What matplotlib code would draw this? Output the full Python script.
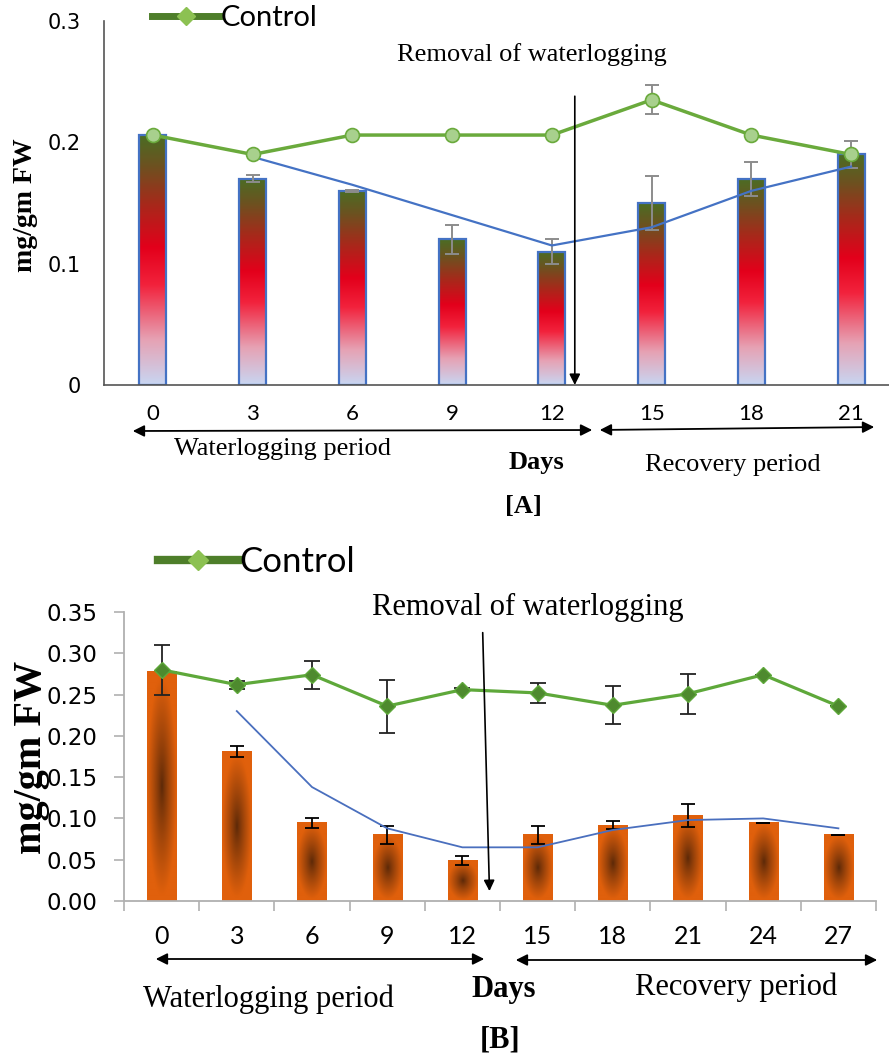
import numpy as np
import matplotlib
matplotlib.use("Agg")
import matplotlib.pyplot as plt
from matplotlib.colors import LinearSegmentedColormap, to_rgb
from matplotlib.lines import Line2D

# ---------------- data ----------------
days_a = ["0", "3", "6", "9", "12", "15", "18", "21"]
treat_a = [0.206, 0.17, 0.16, 0.12, 0.11, 0.15, 0.17, 0.19]
treat_a_err = [0.0, 0.003, 0.001, 0.012, 0.01, 0.022, 0.014, 0.011]
control_a = [0.206, 0.19, 0.206, 0.206, 0.206, 0.235, 0.206, 0.19]
control_a_err = [0.0, 0.0, 0.0, 0.0, 0.0, 0.012, 0.0, 0.0]
trend_a = [0.188, 0.165, 0.14, 0.115, 0.13, 0.16, 0.18]   # days 3..21

days_b = ["0", "3", "6", "9", "12", "15", "18", "21", "24", "27"]
treat_b = [0.278, 0.181, 0.095, 0.08, 0.049, 0.08, 0.092, 0.104, 0.095, 0.08]
treat_b_err = [0.0, 0.007, 0.006, 0.011, 0.006, 0.011, 0.005, 0.014, 0.0, 0.0]
control_b = [0.28, 0.262, 0.274, 0.236, 0.256, 0.252, 0.237, 0.251, 0.274, 0.236]
control_b_err = [0.03, 0.005, 0.017, 0.032, 0.002, 0.012, 0.023, 0.024, 0.0, 0.0]
trend_b = [0.23, 0.138, 0.088, 0.065, 0.065, 0.086, 0.098, 0.1, 0.088]   # days 3..27

W, H = 889, 1055
fig = plt.figure(figsize=(W / 100, H / 100), dpi=100)

SERIF = "Liberation Serif"
SANS = "Lato"
WIDE = "DejaVu Sans"


def P(x, y):
    return (x / W, 1 - y / H)


def ftext(x, y, s, size, weight="normal", family=SERIF, rotation=0):
    fig.text(*P(x, y), s, fontsize=size, fontweight=weight, family=family,
             ha="center", va="center", rotation=rotation)


def farrow(x0, y0, x1, y1):
    fig.add_artist(matplotlib.patches.FancyArrowPatch(
        P(x0, y0), P(x1, y1), transform=fig.transFigure,
        arrowstyle="<|-|>", mutation_scale=17, lw=1.3, color="black"))


# ---------------- panel A ----------------
axA = fig.add_axes([104 / W, 1 - 385 / H, (889 - 104) / W, (385 - 21) / H])
xa = np.arange(len(days_a))
axA.set_xlim(-0.49, 7.38)
axA.set_ylim(0, 0.3)

cmap_a = LinearSegmentedColormap.from_list("bar_a", [
    (0.0, "#c8d6f2"), (0.18, "#e6a2b4"), (0.40, "#f2223c"),
    (0.55, "#e3001b"), (0.72, "#a8281a"), (0.88, "#6c5220"), (1.0, "#4b6d24")])
wa = 0.27
grad = np.linspace(0, 1, 256).reshape(-1, 1)
for xi, v in zip(xa, treat_a):
    axA.imshow(grad, cmap=cmap_a, origin="lower", aspect="auto",
               extent=(xi - wa / 2, xi + wa / 2, 0, v), zorder=1)
axA.bar(xa, treat_a, width=wa, fill=False, edgecolor="#4472c4", lw=1.6, zorder=2)
axA.errorbar(xa, treat_a, yerr=treat_a_err, fmt="none", ecolor="#8c8c8c",
             elinewidth=1.4, capsize=5, capthick=1.4, zorder=3)
axA.plot(xa[1:], trend_a, color="#4472c4", lw=1.6, zorder=4)
axA.errorbar(xa, control_a, yerr=control_a_err, fmt="none", ecolor="#8c8c8c",
             elinewidth=1.4, capsize=5, capthick=1.4, zorder=4)
axA.plot(xa, control_a, color="#6aaa3c", lw=2.5, marker="o", ms=10,
         mfc="#a8d08d", mec="#6aaa3c", mew=1.2, zorder=5)

axA.set_xticks(xa)
axA.set_xticklabels(days_a, family=SANS, fontsize=16)
axA.set_yticks([0, 0.1, 0.2, 0.3])
axA.set_yticklabels(["0", "0.1", "0.2", "0.3"], family=WIDE, fontsize=15)
axA.tick_params(axis="x", length=0, pad=14)
axA.tick_params(axis="y", length=0, pad=17)
for s in ["top", "right"]:
    axA.spines[s].set_visible(False)
for s in ["left", "bottom"]:
    axA.spines[s].set_color("#555555")
    axA.spines[s].set_linewidth(1.2)
ftext(25, 205, "mg/gm FW", 20, weight="bold", rotation=90)

axA.annotate("", xy=(4.23, 0.0), xytext=(4.23, 0.238),
             arrowprops=dict(arrowstyle="-|>", color="black", lw=1.2,
                             mutation_scale=16, shrinkA=0, shrinkB=0),
             annotation_clip=False, zorder=6)

handle_a = Line2D([], [], color="#4e7e2a", lw=5, marker="D", ms=9,
                  mfc="#8cc152", mec="#8cc152")
fig.legend([handle_a], ["Control"], loc="center left", bbox_to_anchor=P(152, 18),
           frameon=False, prop={"family": SANS, "size": 21}, handlelength=2.3,
           handletextpad=0.05, borderpad=0, borderaxespad=0)

ftext(532, 55, "Removal of waterlogging", 19)
farrow(130, 431, 595, 430)
farrow(597, 430, 877, 427)
ftext(282, 449, "Waterlogging period", 19)
ftext(536, 462, "Days", 19, weight="bold")
ftext(733, 465, "Recovery period", 19)
ftext(523, 507, "[A]", 19, weight="bold")

# ---------------- panel B ----------------
axB = fig.add_axes([124 / W, 1 - 901 / H, (876 - 124) / W, (901 - 612) / H])
xb = np.arange(len(days_b))
axB.set_xlim(-0.5, 9.5)
axB.set_ylim(0, 0.35)

wb = 0.39
dark = np.array(to_rgb("#5a2808"))
light = np.array(to_rgb("#e0600c"))
gx, gy = np.meshgrid(np.linspace(-1, 1, 60), np.linspace(-1, 1, 200))
for xi, v in zip(xb, treat_b):
    r = np.clip(np.sqrt(gx ** 2 + (gy * 1.05) ** 2), 0, 1) ** 0.85
    img = dark + (light - dark) * r[..., None]
    axB.imshow(img, origin="lower", aspect="auto",
               extent=(xi - wb / 2, xi + wb / 2, 0, v), zorder=1)
axB.errorbar(xb, treat_b, yerr=treat_b_err, fmt="none", ecolor="black",
             elinewidth=1.3, capsize=5, capthick=1.3, zorder=3)
axB.plot(xb[1:], trend_b, color="#4a6fbe", lw=1.3, zorder=4)
axB.errorbar(xb, control_b, yerr=control_b_err, fmt="none", ecolor="#222222",
             elinewidth=1.3, capsize=6, capthick=1.3, zorder=4)
axB.plot(xb, control_b, color="#5ea83a", lw=2.3, marker="D", ms=8,
         mfc="#4e8a2e", mec="#5ea83a", mew=1.0, zorder=5)

axB.set_xticks(xb)
axB.set_xticklabels(days_b, family=SANS, fontsize=18)
axB.set_xticks(np.arange(-0.5, 9.6, 1.0), minor=True)
yt = [0, 0.05, 0.10, 0.15, 0.20, 0.25, 0.30, 0.35]
axB.set_yticks(yt)
axB.set_yticklabels([f"{v:.2f}" for v in yt], family=WIDE, fontsize=16.5)
axB.tick_params(axis="x", which="major", length=0, pad=17)
axB.tick_params(axis="x", which="minor", length=7, color="#b0b0b0", width=1.2)
axB.tick_params(axis="y", length=7, color="#b0b0b0", width=1.2, pad=12)
for s in ["top", "right"]:
    axB.spines[s].set_visible(False)
for s in ["left", "bottom"]:
    axB.spines[s].set_color("#b0b0b0")
    axB.spines[s].set_linewidth(1.3)
ftext(31, 757, "mg/gm FW", 29, weight="bold", rotation=90)

axB.annotate("", xy=(4.36, 0.012), xytext=(4.27, 0.325),
             arrowprops=dict(arrowstyle="-|>", color="black", lw=1.2,
                             mutation_scale=16, shrinkA=0, shrinkB=0),
             annotation_clip=False, zorder=6)

handle_b = Line2D([], [], color="#4e7e2a", lw=6, marker="D", ms=10,
                  mfc="#8cc152", mec="#8cc152")
fig.legend([handle_b], ["Control"], loc="center left", bbox_to_anchor=P(158, 562),
           frameon=False, prop={"family": SANS, "size": 25}, handlelength=2.3,
           handletextpad=0.05, borderpad=0, borderaxespad=0)

ftext(528, 607, "Removal of waterlogging", 22)
farrow(153, 959, 487, 959)
farrow(513, 960, 880, 960)
ftext(268, 999, "Waterlogging period", 22)
ftext(504, 990, "Days", 22, weight="bold")
ftext(736, 987, "Recovery period", 22)
ftext(500, 1040, "[B]", 22, weight="bold")

fig.savefig("out.png", dpi=100)
